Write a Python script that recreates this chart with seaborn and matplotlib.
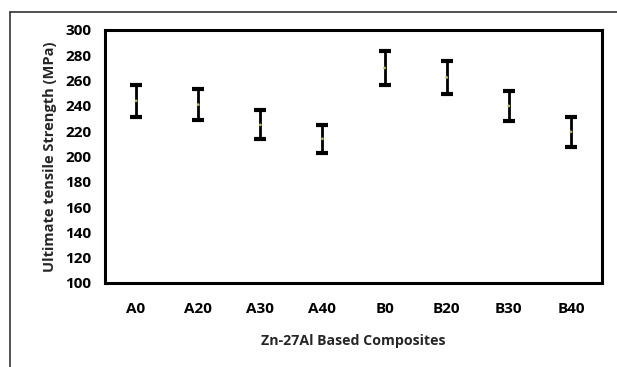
import matplotlib
matplotlib.use('Agg')
import matplotlib.pyplot as plt
import seaborn as sns
import pandas as pd
from matplotlib.lines import Line2D

# data
composites = ['A0', 'A20', 'A30', 'A40', 'B0', 'B20', 'B30', 'B40']
uts_mean = [244, 241, 225, 214, 270, 262.5, 240, 219.5]
uts_err = [12.5, 12, 11.5, 11, 13.5, 13, 12, 12]

df = pd.DataFrame({'comp': composites, 'uts': uts_mean, 'err': uts_err})

sns.set_style('white')
plt.rcParams['font.family'] = ['Open Sans', 'DejaVu Sans']
plt.rcParams['font.weight'] = 'bold'

fig = plt.figure(figsize=(6.17, 3.67), dpi=100)
ax = fig.add_axes([105 / 617, 1 - 283 / 367, 497 / 617, 253 / 367])

x = list(range(len(composites)))
ax.errorbar(x, df['uts'], yerr=df['err'], fmt='none', ecolor='black',
            elinewidth=2, capsize=4, capthick=3)
sns.scatterplot(x=x, y=df['uts'], ax=ax, color='#b5b56a', s=4,
                edgecolor='none', zorder=3)

ax.set_xlim(-0.5, 7.5)
ax.set_ylim(100, 300)
ax.set_yticks(range(100, 301, 20))
ax.set_xticks(x)
ax.set_xticklabels(composites)
ax.tick_params(axis='both', length=0, labelsize=11, colors='black')
ax.tick_params(axis='x', pad=14)
ax.tick_params(axis='y', pad=10)
for lbl in ax.get_xticklabels() + ax.get_yticklabels():
    lbl.set_fontweight('bold')

ax.set_xlabel('Zn-27Al Based Composites', fontsize=10.2, fontweight='bold', labelpad=13)
ax.set_ylabel('Ultimate tensile Strength (MPa)', fontsize=10.5, fontweight='bold', labelpad=6)

for side in ax.spines.values():
    side.set_visible(True)
    side.set_color('black')
    side.set_linewidth(2.2)

# outer chart border (only left and top visible)
fig.add_artist(Line2D([10 / 617, 10 / 617], [0, 1 - 12 / 367], color='#333333', lw=1.2))
fig.add_artist(Line2D([10 / 617, 1], [1 - 12 / 367, 1 - 12 / 367], color='#333333', lw=1.2))

fig.savefig('out.png', dpi=100)
